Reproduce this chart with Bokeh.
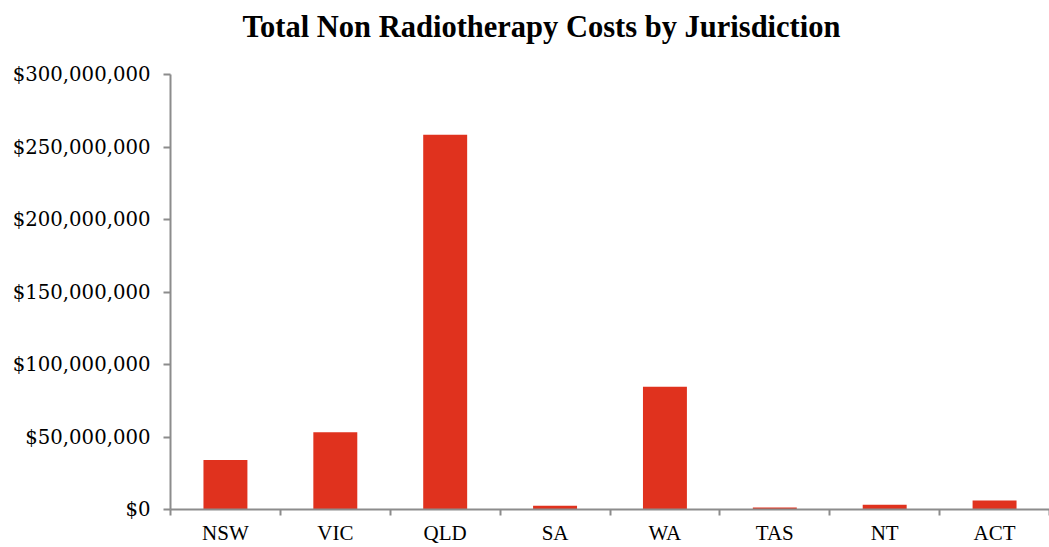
from bokeh.plotting import figure
from bokeh.models import FixedTicker, NumeralTickFormatter, Range1d, ColumnDataSource, Title
from bokeh.embed import file_html
from bokeh.resources import INLINE

title_text = "Total Non Radiotherapy Costs by Jurisdiction"
categories = ["NSW", "VIC", "QLD", "SA", "WA", "TAS", "NT", "ACT"]
costs = [34200000, 53300000, 258500000, 2600000, 84700000, 1400000, 3200000, 6200000]
y_ticks = [0, 50000000, 100000000, 150000000, 200000000, 250000000, 300000000]

positions = [i + 0.5 for i in range(len(categories))]
boundaries = list(range(len(categories) + 1))

src = ColumnDataSource(dict(x=positions, top=costs, cat=categories))

p = figure(width=1049, height=547, output_backend="svg", toolbar_location=None,
           x_range=Range1d(0, len(categories)), y_range=Range1d(0, 300000000),
           min_border_left=170, min_border_right=0, min_border_top=74, min_border_bottom=34)

p.vbar(x="x", top="top", width=0.4, source=src, fill_color="#E0321E", line_color=None)

# spacer panel between the frame and the title (innermost)
spacer = Title(text=" ", text_font_size="1px", standoff=28)
p.add_layout(spacer, "above")
main_title = Title(text=title_text, text_font="Liberation Serif", text_font_style="bold",
                   text_font_size="30.5px", text_color="#000000", align="left",
                   offset=72, vertical_align="bottom", standoff=0)
p.add_layout(main_title, "above")

p.outline_line_color = None
p.xgrid.grid_line_color = None
p.ygrid.grid_line_color = None
p.background_fill_color = "white"
p.border_fill_color = "white"

ax = p.xaxis[0]
ax.ticker = FixedTicker(ticks=positions, minor_ticks=boundaries)
ax.major_label_overrides = {pos: c for pos, c in zip(positions, categories)}
ax.major_tick_line_color = None
ax.major_tick_in = 0
ax.major_tick_out = 6
ax.minor_tick_in = 0
ax.minor_tick_out = 6
ax.minor_tick_line_color = "#8c8c8c"
ax.minor_tick_line_width = 2
ax.axis_line_color = "#8c8c8c"
ax.axis_line_width = 2
ax.major_label_text_font = "Liberation Serif"
ax.major_label_text_font_size = "21px"
ax.major_label_text_color = "#000000"
ax.major_label_standoff = 5

ay = p.yaxis[0]
ay.ticker = FixedTicker(ticks=y_ticks)
ay.formatter = NumeralTickFormatter(format="$0,0")
ay.major_tick_in = 0
ay.major_tick_out = 7
ay.major_tick_line_color = "#8c8c8c"
ay.major_tick_line_width = 2
ay.minor_tick_line_color = None
ay.axis_line_color = "#8c8c8c"
ay.axis_line_width = 2
ay.major_label_text_font = "DejaVu Serif"
ay.major_label_text_font_size = "19.7px"
ay.major_label_text_color = "#000000"
ay.major_label_standoff = 13

open("out.html", "w").write(file_html(p, INLINE))
